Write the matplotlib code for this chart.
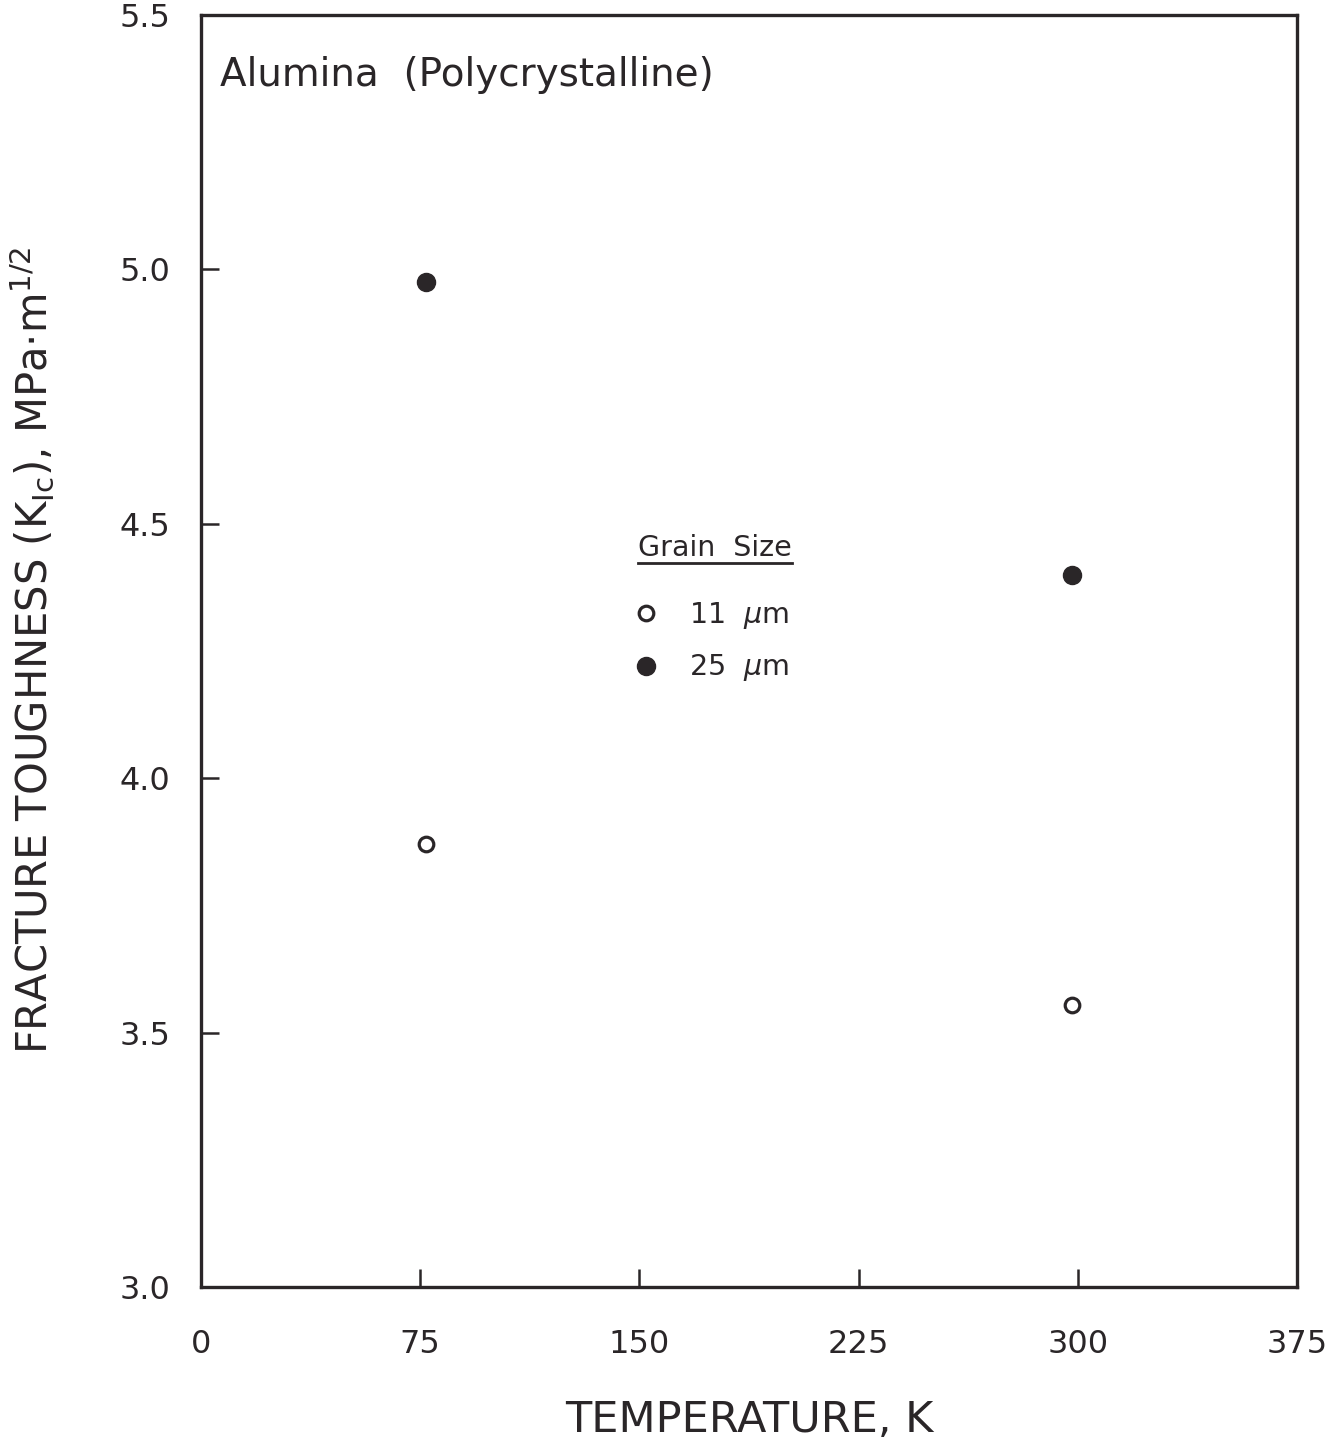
import matplotlib
matplotlib.use("Agg")
import matplotlib.pyplot as plt
from matplotlib.lines import Line2D

# Datos
temp_11 = [77, 298]
kic_11 = [3.87, 3.555]
temp_25 = [77, 298]
kic_25 = [4.975, 4.40]

x_ticks = [0, 75, 150, 225, 300, 375]
y_ticks = [3.0, 3.5, 4.0, 4.5, 5.0, 5.5]

plt.rcParams["font.family"] = ["DejaVu Sans"]
plt.rcParams["mathtext.fontset"] = "dejavusans"

ink = "#2a2628"

fig = plt.figure(figsize=(13.36, 14.45), dpi=100)
ax = fig.add_axes([201 / 1336, 158 / 1445, 1096 / 1336, 1272 / 1445])

ax.plot(temp_11, kic_11, "o", ms=10.5, mfc="white", mec=ink, mew=2.3,
        ls="none", label=r"11  $\mu$m")
ax.plot(temp_25, kic_25, "o", ms=13, mfc=ink, mec=ink, mew=1,
        ls="none", label=r"25  $\mu$m")

ax.set_xlim(0, 375)
ax.set_ylim(3.0, 5.5)
ax.set_xticks(x_ticks)
ax.set_yticks(y_ticks)
ax.set_xticklabels([str(t) for t in x_ticks])
ax.set_yticklabels([f"{t:.1f}" for t in y_ticks])

for s in ax.spines.values():
    s.set_linewidth(2.4)
    s.set_color(ink)
ax.tick_params(axis="both", direction="in", length=13, width=1.8,
               color=ink, labelcolor=ink, labelsize=23)
ax.tick_params(axis="x", pad=30)
ax.tick_params(axis="y", pad=22)

ax.set_xlabel("TEMPERATURE, K", fontsize=31, color=ink, labelpad=28)
ax.set_ylabel(r"FRACTURE TOUGHNESS (K$_{\mathrm{Ic}}$), MPa$\cdot$m$^{1/2}$",
              fontsize=30, color=ink, labelpad=46)

ax.text(0.017, 0.953, "Alumina  (Polycrystalline)", transform=ax.transAxes,
        fontsize=28, color=ink, va="center", ha="left")

# Titulo de la leyenda subrayado
titulo = ax.text(0.399, 0.581, "Grain  Size", transform=ax.transAxes,
                 fontsize=20.5, color=ink, va="center", ha="left")

leg = ax.legend(loc="upper left", bbox_to_anchor=(0.401, 0.54), frameon=False,
                fontsize=20.5, handlelength=0.4, handletextpad=1.3,
                labelspacing=0.75, borderpad=0, borderaxespad=0)
for t in leg.get_texts():
    t.set_color(ink)

fig.canvas.draw()
bb = titulo.get_window_extent(renderer=fig.canvas.get_renderer())
bb = bb.transformed(fig.transFigure.inverted())
fig.add_artist(Line2D([bb.x0, bb.x1], [bb.y0 - 0.001, bb.y0 - 0.001],
                      transform=fig.transFigure, color=ink, lw=2))

fig.savefig("out.png", dpi=100, facecolor="white")
